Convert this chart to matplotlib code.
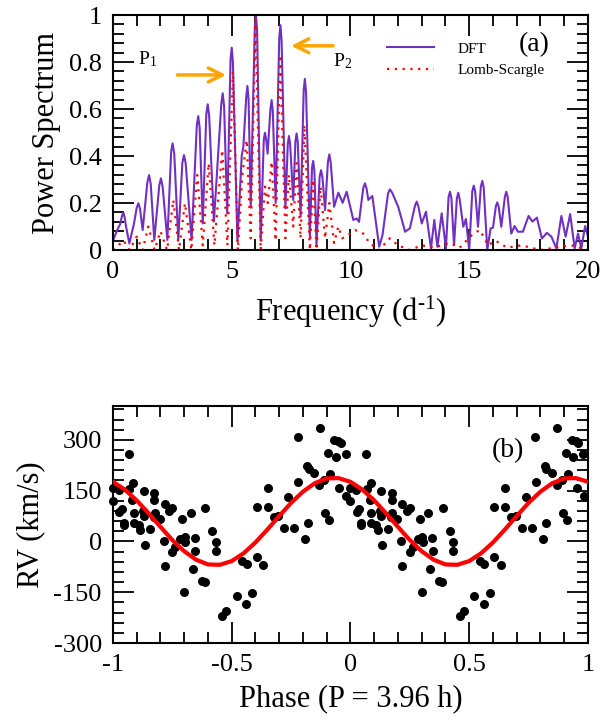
import numpy as np
import matplotlib
matplotlib.use('Agg')
import matplotlib.pyplot as plt
from matplotlib.ticker import MultipleLocator, FuncFormatter

plt.rcParams['font.family'] = 'Liberation Serif'
plt.rcParams['mathtext.fontset'] = 'custom'
plt.rcParams['mathtext.rm'] = 'Liberation Serif'
plt.rcParams['mathtext.default'] = 'regular'
plt.rcParams['axes.unicode_minus'] = False

# (a) power spectra
dft_freq = [0.0, 0.18, 0.30, 0.38, 0.435, 0.49, 0.55, 0.69, 0.88, 1.0, 1.07, 1.14, 1.25,
            1.45, 1.52, 1.59, 1.74, 1.95, 2.02, 2.09, 2.29, 2.45, 2.51, 2.58, 2.75, 2.92,
            2.99, 3.06, 3.31, 3.53, 3.59, 3.65, 3.78, 3.93, 3.99, 4.05, 4.25, 4.56, 4.62,
            4.68, 4.81, 4.95, 5.00, 5.05, 5.24, 5.42, 5.49, 5.61, 5.66, 5.71, 5.80, 5.97,
            6.02, 6.07, 6.22, 6.35, 6.40, 6.45, 6.51, 6.63, 6.68, 6.73, 6.85, 7.00, 7.05,
            7.10, 7.26, 7.36, 7.41, 7.46, 7.59, 7.68, 7.73, 7.78, 7.90, 8.03, 8.08, 8.13,
            8.29, 8.38, 8.43, 8.48, 8.57, 8.70, 8.76, 8.82, 8.93, 9.05, 9.11, 9.17, 9.31,
            9.49, 9.67, 9.84, 10.12, 10.26, 10.36, 10.54, 10.61, 10.68, 10.75, 10.92, 11.21,
            11.35, 11.58, 11.66, 11.75, 12.01, 12.30, 12.50, 12.72, 12.79, 12.86, 13.00,
            13.18, 13.39, 13.53, 13.66, 13.84, 14.02, 14.13, 14.19, 14.25, 14.36, 14.48,
            14.54, 14.60, 14.75, 14.86, 15.00, 15.13, 15.19, 15.25, 15.37, 15.49, 15.55,
            15.61, 15.76, 15.90, 16.00, 16.12, 16.18, 16.24, 16.35, 16.50, 16.56, 16.62,
            16.77, 16.91, 17.05, 17.26, 17.50, 17.66, 17.85, 18.06, 18.27, 18.46, 18.67,
            18.88, 19.06, 19.25, 19.44, 19.58, 19.72, 19.88, 20.0]
dft_power = [0.04, 0.085, 0.11, 0.145, 0.159, 0.14, 0.10, 0.028, 0.11, 0.18, 0.199, 0.175, 0.085,
             0.29, 0.319, 0.28, 0.043, 0.275, 0.305, 0.27, 0.043, 0.42, 0.454, 0.41, 0.043, 0.37,
             0.404, 0.37, 0.043, 0.53, 0.570, 0.52, 0.113, 0.58, 0.620, 0.57, 0.121, 0.62, 0.667,
             0.61, 0.156, 0.81, 0.861, 0.80, 0.035, 0.40, 0.44, 0.65, 0.698, 0.64, 0.184, 0.94,
             1.0, 0.93, 0.04, 0.47, 0.499, 0.47, 0.41, 0.60, 0.638, 0.59, 0.20, 0.90, 0.957,
             0.89, 0.177, 0.45, 0.485, 0.45, 0.213, 0.46, 0.496, 0.46, 0.142, 0.68, 0.728, 0.67,
             0.057, 0.35, 0.379, 0.34, 0.021, 0.31, 0.34, 0.31, 0.17, 0.375, 0.407, 0.37, 0.184,
             0.244, 0.201, 0.248, 0.128, 0.134, 0.12, 0.265, 0.284, 0.26, 0.213, 0.230, 0.014,
             0.064, 0.24, 0.258, 0.245, 0.184, 0.078, 0.092, 0.19, 0.206, 0.185, 0.113,
             0.163, 0.007, 0.128, 0.014, 0.156, 0.007, 0.225, 0.248, 0.22, 0.021, 0.22,
             0.244, 0.215, 0.099, 0.132, 0.0, 0.25, 0.274, 0.25, 0.099, 0.27, 0.294,
             0.265, 0.0, 0.092, 0.095, 0.185, 0.203, 0.185, 0.099, 0.225, 0.248, 0.225,
             0.07, 0.102, 0.078, 0.078, 0.145, 0.121, 0.138, 0.049, 0.073, 0.057, 0.007,
             0.145, 0.057, 0.153, 0.007, 0.07, 0.007, 0.102, 0.06]

ls_freq = [0.0, 0.45, 0.7, 1.0, 1.25, 1.49, 1.75, 2.0, 2.28, 2.54, 2.78, 3.03, 3.30, 3.55, 3.78,
           4.03, 4.27, 4.60, 4.82, 5.05, 5.26, 5.45, 5.63, 5.80, 6.0, 6.22, 6.40, 6.52, 6.68,
           6.85, 7.04, 7.26, 7.41, 7.59, 7.73, 7.90, 8.06, 8.29, 8.43, 8.57, 8.74, 8.93, 9.11,
           9.31, 9.49, 9.65, 9.84, 10.19, 10.54, 10.8, 11.2, 11.66, 12.0, 12.5, 13.0, 13.5,
           14.18, 14.6, 15.17, 15.45, 15.8, 16.1, 16.6, 17.2, 18.0, 18.6, 19.3, 20.0]
ls_power = [0.0, 0.04, 0.0, 0.057, 0.0, 0.10, 0.0, 0.08, 0.0, 0.213, 0.0, 0.199, 0.0, 0.319, 0.02,
            0.369, 0.02, 0.426, 0.02, 0.76, 0.0, 0.32, 0.468, 0.05, 0.98, 0.0, 0.27, 0.2, 0.376,
            0.04, 0.83, 0.05, 0.32, 0.1, 0.37, 0.05, 0.532, 0.0, 0.30, 0.0, 0.27, 0.05, 0.2,
            0.03, 0.10, 0.05, 0.06, 0.085, 0.07, 0.03, 0.0, 0.05, 0.02, 0.0, 0.02, 0.01,
            0.03, 0.01, 0.07, 0.085, 0.02, 0.04, 0.01, 0.02, 0.0, 0.01, 0.02, 0.0]

# (b) radial velocities, phase 0..1 (shown twice, shifted by -1)
phase = [0.000, 0.000, 0.025, 0.027, 0.036, 0.046, 0.046, 0.067, 0.069, 0.081, 0.086, 0.088,
         0.088, 0.109, 0.114, 0.126, 0.130, 0.130, 0.133, 0.157, 0.172, 0.173, 0.173, 0.176,
         0.196, 0.214, 0.218, 0.218, 0.238, 0.249, 0.249, 0.263, 0.284, 0.292, 0.301, 0.302,
         0.305, 0.328, 0.336, 0.344, 0.347, 0.373, 0.387, 0.389, 0.418, 0.432, 0.432, 0.460,
         0.477, 0.521, 0.545, 0.562, 0.563, 0.587, 0.605, 0.605, 0.632, 0.651, 0.651, 0.676,
         0.696, 0.721, 0.738, 0.763, 0.777, 0.781, 0.809, 0.817, 0.822, 0.824, 0.847, 0.868,
         0.871, 0.889, 0.893, 0.907, 0.910, 0.915, 0.931, 0.938, 0.949, 0.952, 0.959, 0.980,
         0.982]
rv = [158, 119, 151, 87, 97, 55, 48, 257, 154, 121, 172, 84, 54, 48, 35, 89, 148, 75, -10, 38,
      72, 143, 123, 84, 65, 1, 111, -74, 89, 99, -31, -17, 8, 67, -149, 13, -2, 84, -81, 10,
      -28, -117, -120, 100, 30, -2, -28, -221, -204, -161, -59, -186, -66, -151, -47, 101, -69,
      159, 101, 72, 75, 41, 131, 41, 308, 175, 8, 222, 54, 215, 203, 168, 335, 180, 84, 261,
      64, 200, 301, 249, 296, 158, 292, 259, 133]

fit_phase = [0.0, 0.05, 0.1, 0.15, 0.2, 0.25, 0.3, 0.35, 0.4, 0.45, 0.5, 0.55, 0.6, 0.65, 0.7,
             0.75, 0.8, 0.85, 0.9, 0.95, 1.0]
fit_rv = [176, 153, 121, 83, 43, 4, -29, -54, -68, -69, -58, -35, -3, 35, 75, 114, 147, 172,
          186, 187, 176]

fmt = FuncFormatter(lambda v, p: '%g' % v)

def style(ax):
    for s in ax.spines.values():
        s.set_linewidth(1.5)
    ax.tick_params(which='both', direction='in', top=True, right=True, width=1.3,
                   labelsize=19, pad=8)
    ax.tick_params(which='major', length=15)
    ax.tick_params(which='minor', length=8)
    ax.xaxis.set_major_formatter(fmt)
    ax.yaxis.set_major_formatter(fmt)

fig = plt.figure(figsize=(6.16, 7.22), dpi=100)

ax1 = fig.add_axes([0.1834, 0.6537, 0.7711, 0.3255])
ax1.plot(dft_freq, dft_power, color='#7030c0', lw=1.5, label='DFT', solid_joinstyle='round')
ax1.plot(ls_freq, ls_power, color='red', lw=1.6, linestyle=(0, (1, 2.5)), label='Lomb-Scargle')
ax1.set_xlim(0, 20)
ax1.set_ylim(0, 1)
ax1.xaxis.set_major_locator(MultipleLocator(5))
ax1.xaxis.set_minor_locator(MultipleLocator(1))
ax1.yaxis.set_major_locator(MultipleLocator(0.2))
ax1.yaxis.set_minor_locator(MultipleLocator(0.04))
style(ax1)
ax1.set_xlabel(r'Frequency (d$^{\text{-1}}$)', fontsize=22, labelpad=8)
ax1.set_ylabel('Power Spectrum', fontsize=22, labelpad=6)
ax1.legend(loc='upper left', bbox_to_anchor=(0.577, 0.885), frameon=False, fontsize=11,
           handlelength=3.1, handletextpad=1.5, labelspacing=0.5, borderpad=0, borderaxespad=0)
ax1.text(0.886, 0.872, '(a)', transform=ax1.transAxes, fontsize=20, ha='center', va='center')
ax1.text(1.05, 0.79, r'P$_1$', fontsize=14, va='baseline')
ax1.text(9.26, 0.78, r'P$_2$', fontsize=14, va='baseline')
ax1.annotate('', xy=(4.88, 0.745), xytext=(2.6, 0.745),
             arrowprops=dict(arrowstyle='->', color='orange', lw=2.5, mutation_scale=25))
ax1.annotate('', xy=(7.38, 0.869), xytext=(9.39, 0.869),
             arrowprops=dict(arrowstyle='->', color='orange', lw=2.5, mutation_scale=25))

ax2 = fig.add_axes([0.1834, 0.1094, 0.7711, 0.3283])
ph = np.array(phase)
ax2.scatter(np.concatenate([ph - 1, ph]), rv + rv, s=30, color='black', zorder=3, clip_on=False)
fp = np.array(fit_phase)
ax2.plot(np.concatenate([fp - 1, fp[1:]]), fit_rv + fit_rv[1:], color='red', lw=3, zorder=4)
ax2.set_xlim(-1, 1)
ax2.set_ylim(-300, 400)
ax2.xaxis.set_major_locator(MultipleLocator(0.5))
ax2.xaxis.set_minor_locator(MultipleLocator(0.1))
ax2.yaxis.set_major_locator(MultipleLocator(150))
ax2.yaxis.set_minor_locator(MultipleLocator(30))
style(ax2)
ax2.set_xlabel('Phase (P = 3.96 h)', fontsize=22, labelpad=6)
ax2.set_ylabel('RV (km/s)', fontsize=22, labelpad=6)
ax2.text(0.832, 0.81, '(b)', transform=ax2.transAxes, fontsize=20, ha='center', va='center')

fig.savefig('out.png', dpi=100)
